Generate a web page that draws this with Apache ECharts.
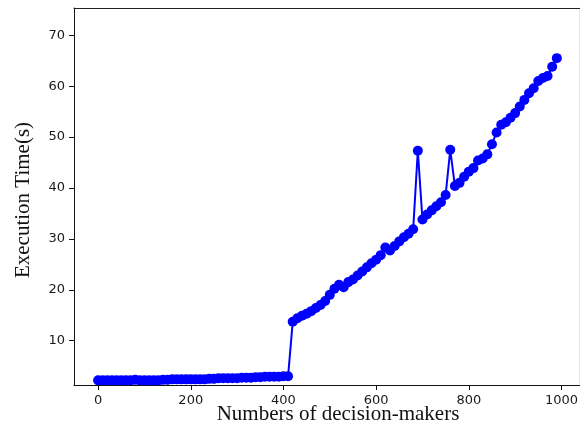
<!DOCTYPE html>
<html>
<head>
<meta charset="utf-8">
<script src="https://cdn.jsdelivr.net/npm/echarts@6/dist/echarts.min.js"></script>
<style>html,body{margin:0;padding:0;background:#fff}#c{width:581px;height:437px}</style>
</head>
<body>
<div id="c"></div>
<script>
// Numbers of decision-makers
const xValues = [
  0,10,20,30,40,50,60,70,80,90,
  100,110,120,130,140,150,160,170,180,190,
  200,210,220,230,240,250,260,270,280,290,
  300,310,320,330,340,350,360,370,380,390,
  400,410,420,430,440,450,460,470,480,490,
  500,510,520,530,540,550,560,570,580,590,
  600,610,620,630,640,650,660,670,680,690,
  700,710,720,730,740,750,760,770,780,790,
  800,810,820,830,840,850,860,870,880,890,
  900,910,920,930,940,950,960,970,980,990
];
// Execution Time (s)
const execTime = [
  2.2,2.2,2.2,2.2,2.2,2.2,2.2,2.2,2.3,2.2,
  2.2,2.2,2.2,2.2,2.3,2.3,2.4,2.4,2.4,2.4,
  2.4,2.4,2.4,2.4,2.5,2.5,2.6,2.6,2.6,2.6,
  2.6,2.7,2.7,2.7,2.8,2.8,2.9,2.9,2.9,2.9,
  3.0,3.0,13.7,14.4,14.9,15.3,15.8,16.4,17.0,17.8,
  19.0,20.2,21.0,20.5,21.5,22.0,22.8,23.6,24.4,25.2,
  25.9,26.8,28.3,27.7,28.6,29.5,30.3,31.0,31.9,47.3,
  33.8,34.8,35.6,36.4,37.2,38.6,47.5,40.4,41.0,42.2,
  43.2,43.9,45.4,45.8,46.6,48.6,50.9,52.4,52.9,53.8,
  54.7,56.0,57.3,58.6,59.6,61.0,61.6,62.0,63.8,65.5
];
const xTicks = [0,200,400,600,800,1000];
const yTicks = [10,20,30,40,50,60,70];
const xTitle = 'Numbers of decision-makers';
const yTitle = 'Execution Time(s)';

const chart = echarts.init(document.getElementById('c'), null, {renderer:'canvas'});
const tickFont = {fontFamily:'DejaVu Sans', fontSize:13, color:'#1a1a1a', formatter:(v)=>String(v)};
const plainAxis = {type:'value', splitLine:{show:false}, axisTick:{show:false}, axisLabel:{show:false}};
chart.setOption({
  animation:false,
  backgroundColor:'#ffffff',
  grid:{left:74, right:0, top:8, bottom:52},
  xAxis:[{
    type:'value', min:-52, max:1039, position:'bottom',
    splitLine:{show:false},
    axisLine:{show:true, onZero:false, lineStyle:{color:'#111', width:1}},
    axisTick:{show:true, customValues:xTicks, length:5, lineStyle:{color:'#111'}},
    axisLabel:Object.assign({customValues:xTicks, margin:9}, tickFont)
  }, Object.assign({min:-52, max:1039, position:'top', axisLine:{show:true, onZero:false, lineStyle:{color:'#222', width:1}}}, plainAxis)],
  yAxis:[{
    type:'value', min:1.29, max:75.35, position:'left',
    splitLine:{show:false},
    axisLine:{show:true, onZero:false, lineStyle:{color:'#111', width:1}},
    axisTick:{show:true, customValues:yTicks, length:5, lineStyle:{color:'#111'}},
    axisLabel:Object.assign({customValues:yTicks, margin:9}, tickFont)
  }, Object.assign({min:1.29, max:75.35, position:'right', axisLine:{show:true, onZero:false, lineStyle:{color:'#e6e6e6', width:1}}}, plainAxis)],
  graphic:[
    {type:'text', x:338, y:414, style:{text:xTitle, fontFamily:'Liberation Serif', fontSize:21, fill:'#111', align:'center', verticalAlign:'middle'}},
    {type:'text', x:23, y:200, rotation:Math.PI/2, style:{text:yTitle, fontFamily:'Liberation Serif', fontSize:21, fill:'#111', align:'center', verticalAlign:'middle'}}
  ],
  series:[{
    type:'line',
    data:xValues.map((x,i)=>[x, execTime[i]]),
    symbol:'circle', symbolSize:10, showAllSymbol:true,
    itemStyle:{color:'#0000ff'},
    lineStyle:{color:'#0000ff', width:2},
    clip:true
  }]
});
</script>
</body>
</html>
